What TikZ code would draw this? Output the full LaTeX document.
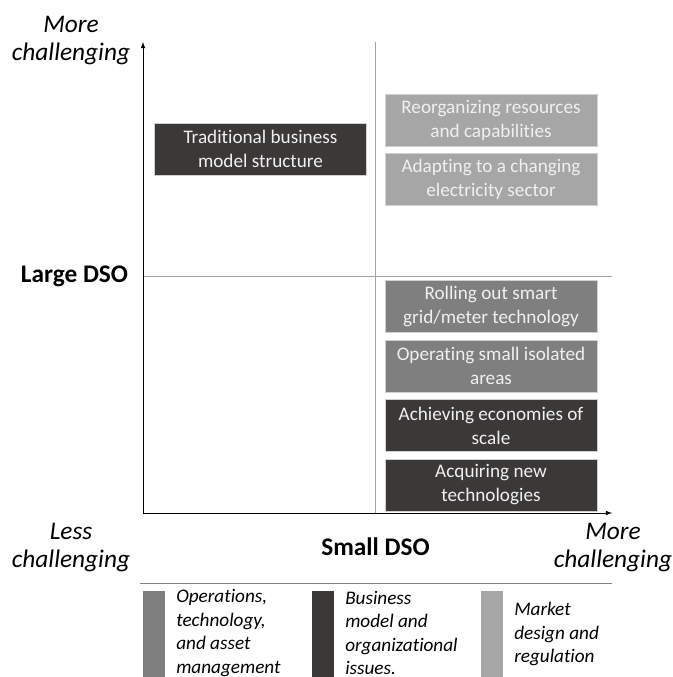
\documentclass[tikz,border=0pt]{standalone}
\usepackage{fontspec}
\setmainfont{Carlito}[Ligatures={NoCommon}]
\definecolor{opsgray}{HTML}{7F7F7F}
\definecolor{bizdark}{HTML}{3B3838}
\definecolor{mktlight}{HTML}{A6A6A6}
\definecolor{gridgray}{HTML}{A3A3A3}
\tikzset{
  issue/.style={minimum width=159pt, minimum height=39pt, inner sep=0pt, align=center,
    text=white!94!black, draw=white!82!black, line width=0.4pt,
    font=\fontsize{14.4}{18}\selectfont},
  axislabel/.style={align=center, font=\fontsize{19}{21}\selectfont\itshape},
  dsolabel/.style={font=\fontsize{19}{22}\selectfont\bfseries},
  legendbar/.style={minimum width=16.5pt, minimum height=64.5pt, inner sep=0pt, anchor=north west},
  legendtext/.style={align=left, anchor=west, inner sep=0pt, font=\fontsize{14.4}{17.6}\selectfont\itshape}
}
\begin{document}
\begin{tikzpicture}[x=0.75pt,y=-0.75pt]
    \useasboundingbox (0,0) rectangle (673,677);
    % axes and quadrant lines
    \coordinate (origin) at (143,513);
    \coordinate (ytop) at (143,42);
    \coordinate (xend) at (612,513);
    \coordinate (midtop) at (375,42);
    \coordinate (midbot) at (375,513);
    \coordinate (midleft) at (143,276);
    \coordinate (midright) at (612,276);
    \draw[gridgray, line width=0.6pt] (midtop) -- (midbot);
    \draw[gridgray, line width=0.6pt] (midleft) -- (midright);
    \draw[line width=0.6pt, -latex] (origin) -- (ytop);
    \draw[line width=0.6pt, -latex] (origin) -- (xend);
    % axis labels
    \node[axislabel] (ymore) at (71,41) {More\\challenging};
    \node[dsolabel] (large) at (74.5,276) {Large DSO};
    \node[axislabel] (xless) at (71,548) {Less\\challenging};
    \node[dsolabel] (small) at (375.5,547) {Small DSO};
    \node[axislabel] (xmore) at (613,548) {More\\challenging};
    % challenges
    \node[issue, fill=bizdark] (tradition) at (260.5,149) {Traditional business\\model structure};
    \node[issue, fill=mktlight] (reorg) at (491,120) {Reorganizing resources\\and capabilities};
    \node[issue, fill=mktlight] (adapt) at (491,179) {Adapting to a changing\\electricity sector};
    \node[issue, fill=opsgray] (smart) at (491,306) {Rolling out smart\\grid/meter technology};
    \node[issue, fill=opsgray] (isolated) at (491,366) {Operating small isolated\\areas};
    \node[issue, fill=bizdark] (scale) at (491,425.5) {Achieving economies of\\scale};
    \node[issue, fill=bizdark] (newtech) at (491,485) {Acquiring new\\technologies};
    % legend
    \coordinate (legleft) at (140,583);
    \coordinate (legright) at (612,583);
    \draw[gridgray!80!black, line width=0.6pt] (legleft) -- (legright);
    \node[legendbar, fill=opsgray] (opsbar) at (143,591) {};
    \node[legendbar, fill=bizdark] (bizbar) at (312,591) {};
    \node[legendbar, fill=mktlight] (mktbar) at (481,591) {};
    \node[legendtext] (opstext) at (176,633) {Operations,\\technology,\\and asset\\management};
    \node[legendtext] (biztext) at (345,633) {Business\\model and\\organizational\\issues.};
    \node[legendtext] (mkttext) at (514,634) {Market\\design and\\regulation};
\end{tikzpicture}
\end{document}
